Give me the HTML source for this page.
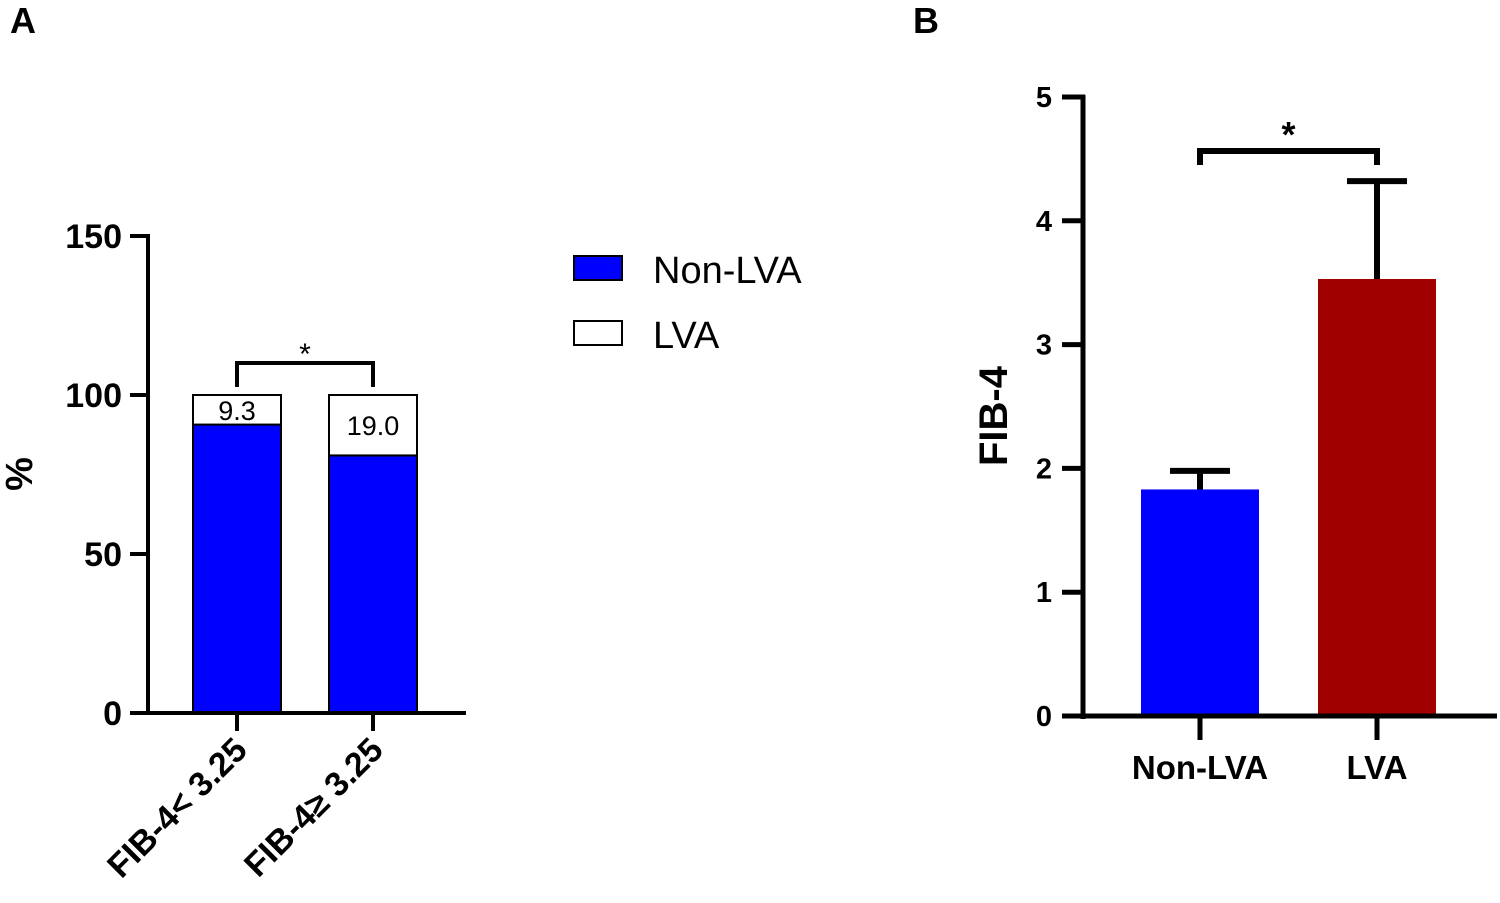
<!DOCTYPE html>
<html><head><meta charset="utf-8"><style>
html,body{margin:0;padding:0;background:#fff;}
svg{display:block;font-family:"Liberation Sans",Arial,sans-serif;}
</style></head><body>
<svg id="chart" width="1500" height="903" viewBox="0 0 1500 903">
<text x="10" y="33" font-size="36" font-weight="bold">A</text>
<text x="913" y="33" font-size="36" font-weight="bold">B</text>
<g id="gA"></g>
<g id="gB"></g>
</svg>
<script>
// Panel A data
const catsA = ["FIB-4< 3.25", "FIB-4\u2265 3.25"];
const nonLVA = [90.7, 81.0];
const lva = [9.3, 19.0];
const lvaLabels = ["9.3", "19.0"];
const ticksA = [0, 50, 100, 150];
// Panel B data
const catsB = ["Non-LVA", "LVA"];
const fibMean = [1.83, 3.53];
const fibErr = [0.15, 0.79];
const ticksB = [0, 1, 2, 3, 4, 5];

const NS = "http://www.w3.org/2000/svg";
function mk(parent, tag, attrs) {
  const e = document.createElementNS(NS, tag);
  for (const k in attrs) e.setAttribute(k, attrs[k]);
  parent.appendChild(e);
  return e;
}
// ---- Panel A ----
const gA = document.getElementById('gA');
const yA = v => 713 - v * (477 / 150);
const xA = i => 237 + i * 136;
const bwA = 88;
ticksA.forEach(t => {
  const l = mk(gA, 'line', {x1: 130, x2: 148, y1: yA(t), y2: yA(t), stroke: '#000', 'stroke-width': 4});
  
  
  const tx = mk(gA, 'text', {x: 122, y: yA(t) + 12, 'font-size': 34, 'font-weight': 'bold', 'text-anchor': 'end'});
  tx.textContent = t;
  
  
});
catsA.forEach((c, i) => {
  const cx = xA(i);
  const b = mk(gA, 'rect', {x: cx - bwA / 2, y: yA(nonLVA[i]), width: bwA, height: yA(0) - yA(nonLVA[i]), fill: '#0000ff', stroke: '#000', 'stroke-width': 2});
  
  
  const top = nonLVA[i] + lva[i];
  const w = mk(gA, 'rect', {x: cx - bwA / 2, y: yA(top), width: bwA, height: yA(nonLVA[i]) - yA(top), fill: '#fff', stroke: '#000', 'stroke-width': 2});
  
  
  const lt = mk(gA, 'text', {x: cx, y: (yA(top) + yA(nonLVA[i])) / 2 + 10, 'font-size': 27, 'text-anchor': 'middle'});
  lt.textContent = lvaLabels[i];
  
  
  const tk = mk(gA, 'line', {x1: cx, x2: cx, y1: 713, y2: 731, stroke: '#000', 'stroke-width': 4});
  
  
  const xl = mk(gA, 'text', {x: cx + 12, y: 752, 'font-size': 34, 'font-weight': 'bold', 'text-anchor': 'end', transform: `rotate(-45 ${cx + 12} 752)`});
  xl.textContent = c;
  
  
});
mk(gA, 'line', {x1: 148, x2: 148, y1: 234, y2: 715, stroke: '#000', 'stroke-width': 4,  });
mk(gA, 'line', {x1: 146, x2: 466, y1: 713, y2: 713, stroke: '#000', 'stroke-width': 4,  });
mk(gA, 'path', {d: `M${xA(0)} 387 V363 H${xA(1)} V387`, fill: 'none', stroke: '#000', 'stroke-width': 4,  });
const sa = mk(gA, 'text', {x: (xA(0) + xA(1)) / 2, y: 364, 'font-size': 30, 'text-anchor': 'middle',  }); sa.textContent = '*';
const yt = mk(gA, 'text', {x: 32, y: 474, 'font-size': 38, 'font-weight': 'bold', 'text-anchor': 'middle', transform: 'rotate(-90 32 474)',  }); yt.textContent = '%';
// legend
mk(gA, 'rect', {x: 574, y: 256, width: 48, height: 24, fill: '#0000ff', stroke: '#000', 'stroke-width': 2,  });
const l1 = mk(gA, 'text', {x: 653, y: 283, 'font-size': 38,  }); l1.textContent = 'Non-LVA';
mk(gA, 'rect', {x: 574, y: 321, width: 48, height: 24, fill: '#fff', stroke: '#000', 'stroke-width': 2,  });
const l2 = mk(gA, 'text', {x: 653, y: 348, 'font-size': 38,  }); l2.textContent = 'LVA';
// ---- Panel B ----
const gB = document.getElementById('gB');
const yB = v => 716 - v * 123.8;
const xB = i => 1200 + i * 177;
const bwB = 118;
const colorsB = ['#0000ff', '#a00000'];
ticksB.forEach(t => {
  const l = mk(gB, 'line', {x1: 1062, x2: 1085, y1: yB(t), y2: yB(t), stroke: '#000', 'stroke-width': 5});
  
  
  const tx = mk(gB, 'text', {x: 1052, y: yB(t) + 10, 'font-size': 29, 'font-weight': 'bold', 'text-anchor': 'end'});
  tx.textContent = t;
  
  
});
catsB.forEach((c, i) => {
  const cx = xB(i);
  const top = fibMean[i] + fibErr[i];
  const e = mk(gB, 'path', {d: `M${cx} ${yB(fibMean[i])} V${yB(top)} M${cx - 30} ${yB(top)} H${cx + 30}`, stroke: '#000', 'stroke-width': 6, fill: 'none'});
  
  
  const b = mk(gB, 'rect', {x: cx - bwB / 2, y: yB(fibMean[i]), width: bwB, height: yB(0) - yB(fibMean[i]), fill: colorsB[i]});
  
  
  const tk = mk(gB, 'line', {x1: cx, x2: cx, y1: 716, y2: 740, stroke: '#000', 'stroke-width': 5});
  
  
  const xl = mk(gB, 'text', {x: cx, y: 779, 'font-size': 33, 'font-weight': 'bold', 'text-anchor': 'middle'});
  xl.textContent = c;
  
  
});
mk(gB, 'line', {x1: 1083, x2: 1083, y1: 95, y2: 719, stroke: '#000', 'stroke-width': 5,  });
mk(gB, 'line', {x1: 1081, x2: 1497, y1: 716, y2: 716, stroke: '#000', 'stroke-width': 5,  });
mk(gB, 'path', {d: `M${xB(0)} 165 V151 H${xB(1)} V165`, fill: 'none', stroke: '#000', 'stroke-width': 6,  });
const sb = mk(gB, 'text', {x: (xB(0) + xB(1)) / 2, y: 147, 'font-size': 36, 'font-weight': 'bold', 'text-anchor': 'middle',  }); sb.textContent = '*';
const ytb = mk(gB, 'text', {x: 1007, y: 416, 'font-size': 40, 'font-weight': 'bold', 'text-anchor': 'middle', transform: 'rotate(-90 1007 416)',  }); ytb.textContent = 'FIB-4';
</script>
</body></html>
